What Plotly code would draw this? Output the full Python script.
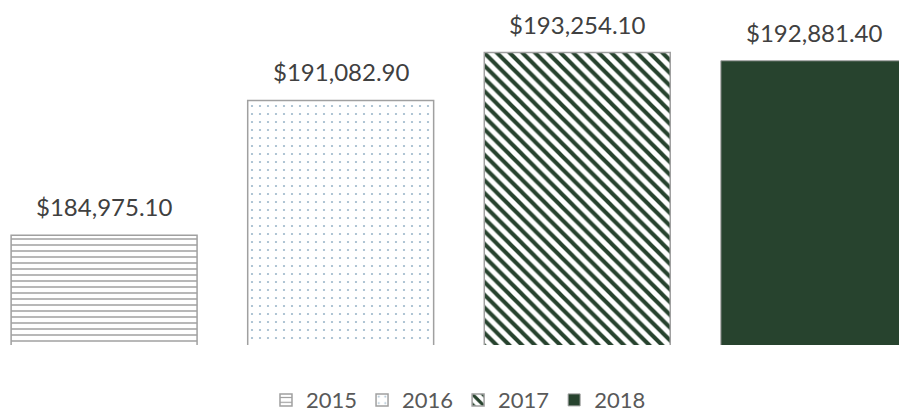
import plotly.graph_objects as go

years = ["2015", "2016", "2017", "2018"]
values = [184975.10, 191082.90, 193254.10, 192881.40]
labels = ["$184,975.10", "$191,082.90", "$193,254.10", "$192,881.40"]

GREEN = "#27432E"
GREY = "#A0A0A0"

styles = {
    "2015": dict(color="white", line=dict(color=GREY, width=1.5),
                 pattern=dict(shape="-", fgcolor="#A0A0A0", fgopacity=1, bgcolor="white",
                              size=6, solidity=0.25)),
    "2016": dict(color="white", line=dict(color=GREY, width=1.5),
                 pattern=dict(shape=".", fgcolor="#9DB8CB", fgopacity=1, bgcolor="white",
                              size=8, solidity=0.06)),
    "2017": dict(color="white", line=dict(color=GREY, width=1.5),
                 pattern=dict(shape="\\", fgcolor=GREEN, fgopacity=1, bgcolor="white",
                              size=9, solidity=0.45)),
    "2018": dict(color=GREEN, line=dict(color=GREY, width=1)),
}

fig = go.Figure()
for i, (yr, v) in enumerate(zip(years, values)):
    fig.add_trace(go.Bar(x=[i], y=[v], name=yr, marker=styles[yr],
                         width=0.786, hoverinfo="skip"))

for i, (v, lab) in enumerate(zip(values, labels)):
    fig.add_annotation(x=i, y=v, text=lab, showarrow=False, yanchor="bottom",
                       yshift=12, font=dict(size=24, color="#404040"))

fig.update_layout(
    width=899, height=415,
    paper_bgcolor="white", plot_bgcolor="white",
    font=dict(family="Lato, Carlito, Arial, sans-serif", color="#595959"),
    margin=dict(l=0, r=0, t=14, b=70, autoexpand=False),
    barmode="overlay",
    showlegend=True,
    legend=dict(orientation="h", x=0.51, xanchor="center", y=-0.103, yanchor="top",
                font=dict(size=22, color="#595959"), itemwidth=30,
                traceorder="normal"),
    xaxis=dict(range=[-0.44, 3.36], showticklabels=False,
               showgrid=False, zeroline=False, showline=False),
    yaxis=dict(range=[180000, 195000], visible=False),
)

fig.write_html("out.html", config={"displayModeBar": False},
               post_script="document.body.style.margin='0';")
